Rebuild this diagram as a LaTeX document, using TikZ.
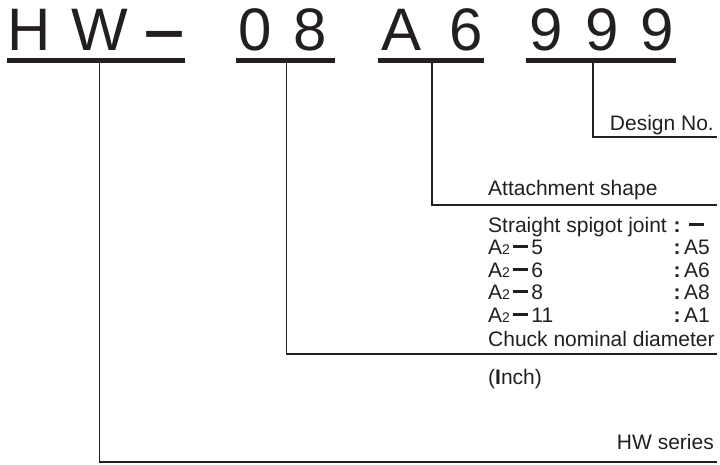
\documentclass[tikz,border=0pt]{standalone}
\usepackage{fontspec}
\setmainfont{Liberation Sans}
\definecolor{ink}{HTML}{231F20}
\newcommand{\sdash}{\rule[0.3em]{0.72em}{0.13em}}
\newcommand{\Atwo}[1]{A{\fontsize{14}{14}\selectfont 2}\hspace{0.15em}\sdash\hspace{0.15em}#1}
\begin{document}
\begin{tikzpicture}[x=1pt,y=-1pt,
  big/.style={font=\fontsize{60}{60}\selectfont, text=ink, inner sep=0pt, anchor=base},
  lbl/.style={font=\fontsize{21}{24}\selectfont, text=ink, inner sep=0pt, anchor=base west},
  rlbl/.style={font=\fontsize{21}{24}\selectfont, text=ink, inner sep=0pt, anchor=base east},
  uline/.style={draw=ink, line width=4.5pt},
  lead/.style={draw=ink, line width=1.4pt}]
\useasboundingbox (0,0) rectangle (720,464);
% big code characters
\node[big] (cH) at (29,50) {H};
\node[big] (cW) at (99.5,50) {W};
\node[big, xscale=1.2] (cD) at (165,50) {\textbf{–}};
\node[big] (c0) at (255,50) {0};
\node[big] (c8) at (310.5,50) {8};
\node[big] (cA) at (401.5,50) {A};
\node[big] (c6) at (466,50) {6};
\node[big] (c9a) at (546.5,50) {9};
\node[big] (c9b) at (602.5,50) {9};
\node[big] (c9c) at (657.5,50) {9};
% underlines
\coordinate (u1a) at (7,60.5);   \coordinate (u1b) at (185,60.5);
\coordinate (u2a) at (236,60.5); \coordinate (u2b) at (335,60.5);
\coordinate (u3a) at (378,60.5); \coordinate (u3b) at (484,60.5);
\coordinate (u4a) at (526,60.5); \coordinate (u4b) at (676,60.5);
\draw[uline] (u1a) -- (u1b);
\draw[uline] (u2a) -- (u2b);
\draw[uline] (u3a) -- (u3b);
\draw[uline] (u4a) -- (u4b);
% leader start points
\coordinate (t1) at (99.5,62);
\coordinate (t2) at (286.5,62);
\coordinate (t3) at (432,62);
\coordinate (t4) at (593,62);
% leader end points
\coordinate (e4) at (717,137);
\coordinate (e3) at (717,205);
\coordinate (e2) at (717,354);
\coordinate (e1) at (717,462);
\draw[lead] (t4) |- (e4);
\draw[lead] (t3) |- (e3);
\draw[lead] (t2) |- (e2);
\draw[lead] (t1) |- (e1);
% labels
\node[rlbl] (design) at (714,130) {Design No.};
\node[lbl] (attach) at (488,195) {Attachment shape};
\node[lbl] (r0) at (488,232) {Straight spigot joint};
\node[lbl] (r1) at (488,254.5) {\Atwo{5}};
\node[lbl] (r2) at (488,277) {\Atwo{6}};
\node[lbl] (r3) at (488,299.5) {\Atwo{8}};
\node[lbl] (r4) at (488,322) {\Atwo{11}};
\node[lbl, anchor=base] (k0) at (677,232) {\textbf{:}};
\node[lbl, anchor=base] (k1) at (677,254.5) {\textbf{:}};
\node[lbl, anchor=base] (k2) at (677,277) {\textbf{:}};
\node[lbl, anchor=base] (k3) at (677,299.5) {\textbf{:}};
\node[lbl, anchor=base] (k4) at (677,322) {\textbf{:}};
\node[lbl] (v0) at (689,232) {\sdash};
\node[lbl] (v1) at (684,254.5) {A5};
\node[lbl] (v2) at (684,277) {A6};
\node[lbl] (v3) at (684,299.5) {A8};
\node[lbl] (v4) at (684,322) {A1};
\node[lbl] (chuck) at (488,346) {Chuck nominal diameter};
\node[lbl] (inch) at (488,384) {(\textbf{I}nch)};
\node[rlbl] (hws) at (714,449) {HW series};
\end{tikzpicture}
\end{document}
